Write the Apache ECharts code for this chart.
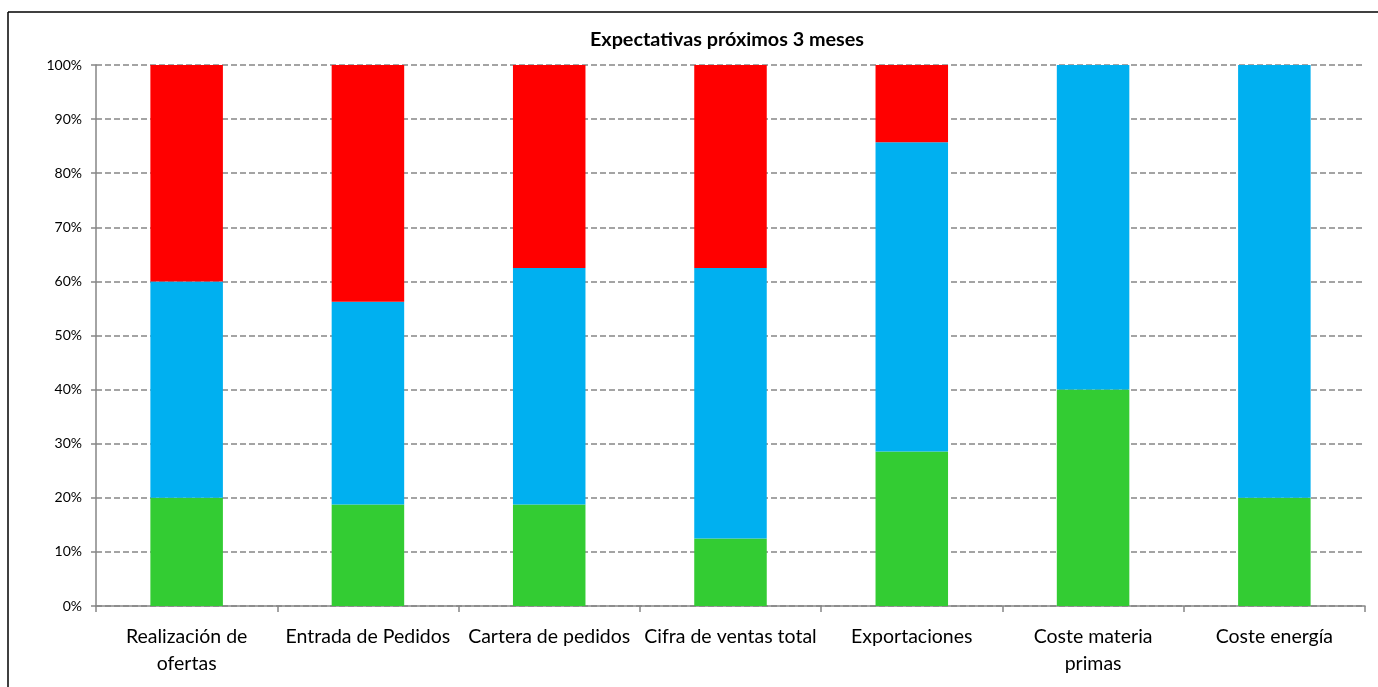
<!DOCTYPE html>
<html><head><meta charset="utf-8">
<script src="https://cdn.jsdelivr.net/npm/echarts@6/dist/echarts.min.js"></script>
<style>html,body{margin:0;padding:0;background:#fff}#c{width:1378px;height:687px}</style>
</head><body><div id="c"></div>
<script>
const categories = ["Realización de\nofertas","Entrada de Pedidos","Cartera de pedidos","Cifra de ventas total","Exportaciones","Coste materia\nprimas","Coste energía"];
const greenVals = [20, 18.75, 18.75, 12.5, 28.57, 40, 20];
const blueVals = [40, 37.5, 43.75, 50, 57.14, 60, 80];
const redVals = [40, 43.75, 37.5, 37.5, 14.29, 0, 0];
const yTicks = [0,10,20,30,40,50,60,70,80,90,100];
const title = "Expectativas próximos 3 meses";

const chart = echarts.init(document.getElementById('c'), null, {renderer:'canvas'});
const font = "Lato, 'Open Sans', sans-serif";
const mk = (name, data, color) => ({name, type:'bar', stack:'s', data, barWidth:'40%', itemStyle:{color}, emphasis:{disabled:true}});
chart.setOption({
  animation:false,
  title:{text:title, left:722, textAlign:'center', top:25, textStyle:{fontFamily:font, fontSize:19.8, fontWeight:'bold', color:'#000'}},
  grid:{left:96, right:13, top:65, bottom:81},
  xAxis:{type:'category', data:categories,
    axisLine:{lineStyle:{color:'#868686', width:1.5}},
    axisTick:{show:true, alignWithLabel:false, length:6, lineStyle:{color:'#868686', width:1.5}},
    axisLabel:{fontFamily:font, fontSize:19.5, color:'#000', margin:17, lineHeight:27, interval:0}},
  yAxis:{type:'value', min:0, max:100, interval:10,
    axisLine:{show:true, lineStyle:{color:'#868686', width:1.5}},
    axisTick:{show:true, length:5, lineStyle:{color:'#868686', width:1.5}},
    axisLabel:{fontFamily:font, fontSize:14, color:'#000', margin:14, formatter: v => yTicks.includes(v) ? v + '%' : ''},
    splitLine:{show:true, lineStyle:{color:'#868686', type:[6,3], width:1.5}}},
  series:[mk('Mejor', greenVals, '#33CC33'), mk('Igual', blueVals, '#00B0F0'), mk('Peor', redVals, '#FF0000')],
  graphic:[
    {type:'line', shape:{x1:8, y1:12, x2:8, y2:700}, style:{stroke:'#000', lineWidth:1.5}},
    {type:'line', shape:{x1:8, y1:12, x2:1390, y2:12}, style:{stroke:'#000', lineWidth:1.5}}
  ]
});
</script></body></html>
